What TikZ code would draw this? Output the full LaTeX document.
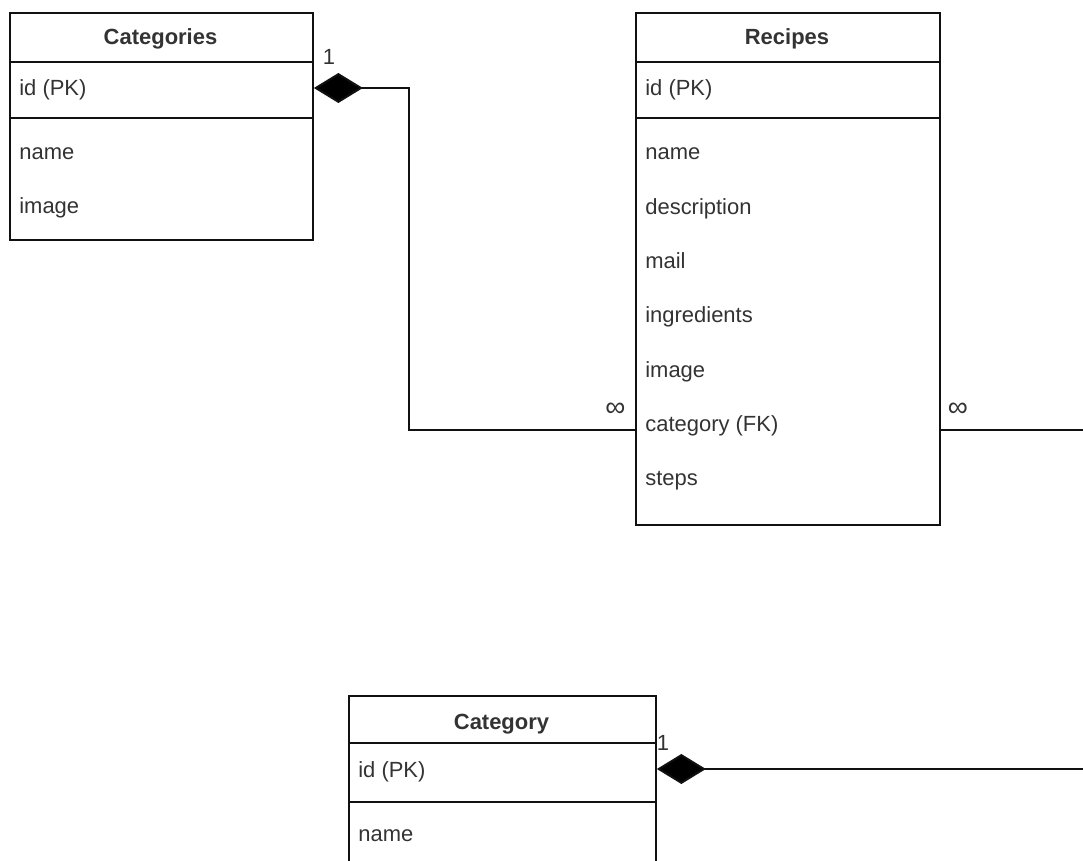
\documentclass[tikz,border=0pt]{standalone}
\usepackage{fontspec}
\setmainfont{Liberation Sans}
\usetikzlibrary{arrows.meta}
\definecolor{inkgray}{HTML}{333333}
\definecolor{linegray}{HTML}{111111}

\begin{document}
\begin{tikzpicture}[x=0.02cm,y=-0.02cm,
  entity/.style={draw=linegray,line width=1.1pt,anchor=north west,inner sep=0pt},
  head/.style={text=inkgray,anchor=base,inner sep=0pt,font=\fontsize{12.5}{15}\selectfont\bfseries},
  field/.style={text=inkgray,anchor=base west,inner sep=0pt,font=\fontsize{12.5}{15}\selectfont},
  mult/.style={text=inkgray,anchor=base,inner sep=0pt,font=\fontsize{12.5}{15}\selectfont},
  many/.style={text=inkgray,inner sep=0pt,font=\fontsize{16}{18}\selectfont},
  rule/.style={draw=linegray,line width=1.1pt},
  rel/.style={draw=linegray,line width=1.1pt},
  comp/.style={rel,{Diamond[length=0.98cm,width=0.6cm,fill=black]}-}]
  \useasboundingbox (0,0) rectangle (1083,861);
  \clip (0,0) rectangle (1083,861);

  % Categories
  \node[entity,minimum width=6.06cm,minimum height=4.54cm] (cats) at (9,12) {};
  \node[head] (cats-t) at (160.5,45) {Categories};
  \draw[rule] (9,62) -- (312,62);
  \draw[rule] (9,118) -- (312,118);
  \node[field] (cats-id) at (19,96) {id (PK)};
  \node[field] (cats-name) at (19,160) {name};
  \node[field] (cats-img) at (19,214) {image};

  % Recipes
  \node[entity,minimum width=6.08cm,minimum height=10.24cm] (recs) at (635,12) {};
  \node[head] (recs-t) at (787,45) {Recipes};
  \draw[rule] (635,62) -- (939,62);
  \draw[rule] (635,118) -- (939,118);
  \node[field] (recs-id) at (645,96) {id (PK)};
  \node[field] (recs-name) at (645,160) {name};
  \node[field] (recs-desc) at (645,215) {description};
  \node[field] (recs-mail) at (645,269) {mail};
  \node[field] (recs-ingr) at (645,323) {ingredients};
  \node[field] (recs-img) at (645,378) {image};
  \node[field] (recs-cat) at (645,432) {category (FK)};
  \node[field] (recs-steps) at (645,486) {steps};

  % Category
  \node[entity,minimum width=6.14cm,minimum height=4.1cm] (cat) at (348,695) {};
  \node[head] (cat-t) at (501.5,730) {Category};
  \draw[rule] (348,743) -- (655,743);
  \draw[rule] (348,802) -- (655,802);
  \node[field] (cat-id) at (358,778) {id (PK)};
  \node[field] (cat-name) at (358,842) {name};

  \coordinate (out-a) at (1090,430);
  \coordinate (out-b) at (1090,769);

  \draw[comp] (cats.east |- 0,88) -- ++(95,0) |- (recs.west |- 0,430);
  \draw[rel] (recs.east |- 0,430) -- (out-a);
  \draw[comp] (cat.east |- 0,769) -- (out-b);

  \node[mult] (m-cats) at (329,65) {1};
  \node[many] (m-recs) at (615.5,409.5) {∞};
  \node[many] (m-out) at (958,409.5) {∞};
  \node[mult] (m-cat) at (663,750) {1};
\end{tikzpicture}
\end{document}
